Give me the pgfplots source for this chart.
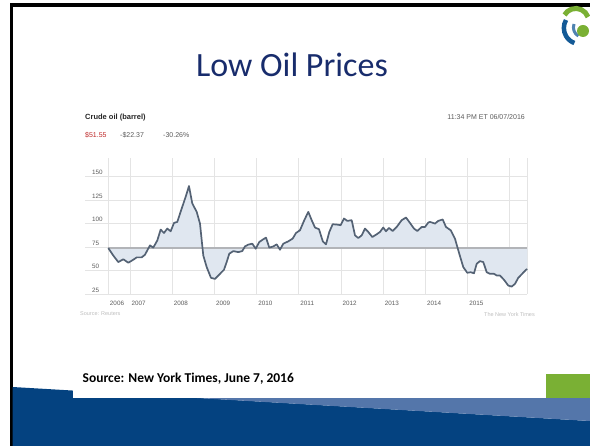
\documentclass[border=0pt]{standalone}
\usepackage{fontspec}
\setmainfont{Carlito}
\newfontfamily\chartfont{Liberation Sans}
\usepackage{pgfplots}
\pgfplotsset{compat=1.18}
\usepgfplotslibrary{fillbetween}
\usepackage{pgfplotstable}
\definecolor{navy}{RGB}{24,44,108}
\definecolor{bandblue}{RGB}{4,66,128}
\definecolor{lightband}{RGB}{84,118,170}
\definecolor{slidegreen}{RGB}{122,176,52}
\definecolor{linec}{RGB}{84,98,116}
\definecolor{fillc}{RGB}{224,231,240}
\definecolor{refc}{RGB}{178,180,184}
\definecolor{gridc}{RGB}{228,228,228}
\definecolor{textgray}{RGB}{90,90,90}
\definecolor{faint}{RGB}{190,190,190}
\definecolor{pricered}{RGB}{190,40,40}
\definecolor{logoblue}{RGB}{20,90,150}

% x = years since 1 Jan 2006
\pgfplotstableread{
x y
0.486 73.92
0.604 66
0.723 59
0.841 62
0.960 58.3
1.078 61.5
1.159 64
1.277 64
1.355 66.8
1.474 76.8
1.552 74.4
1.647 82
1.727 93.6
1.806 90
1.884 94.7
1.964 91.8
2.043 100.7
2.121 101.8
2.225 116
2.320 128.6
2.398 140
2.476 121.5
2.581 112.5
2.659 100
2.737 66
2.818 53.6
2.919 42.2
3.014 41.1
3.133 46.5
3.227 50.8
3.291 59
3.353 67.9
3.448 70.7
3.566 69.6
3.661 70.7
3.725 75.7
3.803 77.6
3.898 78.6
3.979 73.3
4.064 80.4
4.145 82.9
4.223 85.1
4.301 74.4
4.396 75.7
4.476 77.9
4.555 72.2
4.633 78.6
4.751 81.1
4.855 84
4.934 90
5.028 92.9
5.130 103.6
5.225 112.5
5.306 103.6
5.384 95.8
5.479 94
5.570 81
5.645 77.9
5.723 91.1
5.803 99.3
5.898 99
5.993 98.3
6.071 105.4
6.149 102.9
6.254 103.6
6.332 87.5
6.410 84.6
6.491 87.5
6.569 94.7
6.647 91.1
6.742 85.7
6.846 88.6
6.924 91.1
7.002 95.8
7.066 91.8
7.137 95.4
7.225 92.1
7.320 96.4
7.438 103.6
7.540 106.5
7.635 100.7
7.730 94.7
7.808 92.1
7.912 96.4
7.991 96.4
8.069 101.1
8.109 101.8
8.227 100
8.306 102.9
8.410 104.4
8.488 96.4
8.600 92.9
8.701 84
8.803 67.9
8.898 53.6
8.993 47.6
9.073 48.2
9.152 47.1
9.216 57.2
9.294 60
9.372 59
9.453 48.2
9.531 46.5
9.626 46.5
9.690 44.7
9.768 44.7
9.863 40.1
9.964 34
10.045 32.9
10.123 35.8
10.201 42.2
10.306 47.1
10.384 50.8
10.415 51.55
}\oildata

\pgfplotstableread{
x y
0.486 73.92
10.415 73.92
}\refdata

\begin{document}
\begin{tikzpicture}
\begin{scope}[x=1pt,y=-1pt,shift={(0pt,446pt)}]
  % slide frame
  \fill[black] (9.5,3.5) rectangle (590,7.5);
  \fill[black] (9.5,3.5) rectangle (12.5,446);
  % bottom band
  \fill[bandblue] (12.5,387) -- (590,421) -- (590,446) -- (12.5,446) -- cycle;
  \fill[lightband] (197,398) -- (590,398) -- (590,421) -- cycle;
  \fill[white] (73,360) rectangle (546,398);
  \fill[slidegreen] (546,374) rectangle (590,398);
  \node[anchor=base west, inner sep=0pt, font=\bfseries\fontsize{13.5}{15}\selectfont]
    at (82.5,383) {Source: New York Times, June 7, 2016};
  % title
  \node[anchor=base, inner sep=0pt, text=navy, font=\fontsize{34}{38}\selectfont]
    at (292,77) {Low Oil Prices};
  % logo
  \draw[slidegreen, line width=5pt] (588,17) arc[start angle=-20, end angle=-150, radius=13];
  \draw[logoblue, line width=4.5pt] (566,20) arc[start angle=-150, end angle=-250, radius=16];
  \draw[logoblue!75, line width=3pt] (574,24) arc[start angle=-160, end angle=-240, radius=10];
  \fill[slidegreen] (583,31) circle (6);
  % chart header
  \node[anchor=west, inner sep=0pt, text=black!85, font=\chartfont\bfseries\fontsize{7.5}{9}\selectfont]
    at (85,117.5) {Crude oil (barrel)};
  \node[anchor=west, inner sep=0pt, text=pricered, font=\chartfont\fontsize{7}{8}\selectfont]
    at (85,135) {\$51.55};
  \node[anchor=west, inner sep=0pt, text=textgray, font=\chartfont\fontsize{7}{8}\selectfont]
    at (120,135) {-\$22.37};
  \node[anchor=west, inner sep=0pt, text=textgray, font=\chartfont\fontsize{7}{8}\selectfont]
    at (163,135) {-30.26\%};
  \node[anchor=east, inner sep=0pt, text=textgray, font=\chartfont\fontsize{7}{8}\selectfont]
    at (525,117) {11:34 PM ET 06/07/2016};
  \node[anchor=west, inner sep=0pt, text=faint, font=\chartfont\fontsize{5.5}{6}\selectfont]
    at (80,314) {Source: Reuters};
  \node[anchor=east, inner sep=0pt, text=faint, font=\chartfont\fontsize{5.5}{6}\selectfont]
    at (535,315) {The New York Times};
\end{scope}

\begin{axis}[
  at={(85pt,152pt)}, anchor=south west,
  scale only axis, width=442.3pt, height=136.1pt,
  xmin=-0.066, xmax=10.415, ymin=25, ymax=170,
  clip=false,
  axis line style={draw=none},
  major tick length=0pt,
  xmajorgrids, ymajorgrids,
  grid style={color=gridc, line width=0.7pt},
  xtick={0.486,1,2,3,4,5,6,7,8,9,10,10.415},
  xticklabels={2006,2007,2008,2009,2010,2011,2012,2013,2014,2015,,},
  ytick={25,50,75,100,125,150},
  /pgf/number format/assume math mode=true,
  ticklabel style={font=\chartfont\fontsize{6.3}{7}\selectfont, text=textgray, inner sep=0pt},
  xticklabel style={anchor=north west, xshift=1.5pt, yshift=-7pt},
  yticklabel style={anchor=south west, xshift=7pt, yshift=1.5pt},
]
\addplot[name path=ref, draw=none] table[x=x,y=y] {\refdata};
\addplot[name path=oil, draw=none] table[x=x,y=y] {\oildata};
\addplot[fill=fillc, draw=none] fill between[of=oil and ref];
\addplot[refc, line width=2.2pt] table[x=x,y=y] {\refdata};
\addplot[linec, line width=1.7pt, line join=round] table[x=x,y=y] {\oildata};
\end{axis}
\pgfresetboundingbox
\path[use as bounding box] (0,0) rectangle (590pt,446pt);
\end{tikzpicture}
\end{document}
